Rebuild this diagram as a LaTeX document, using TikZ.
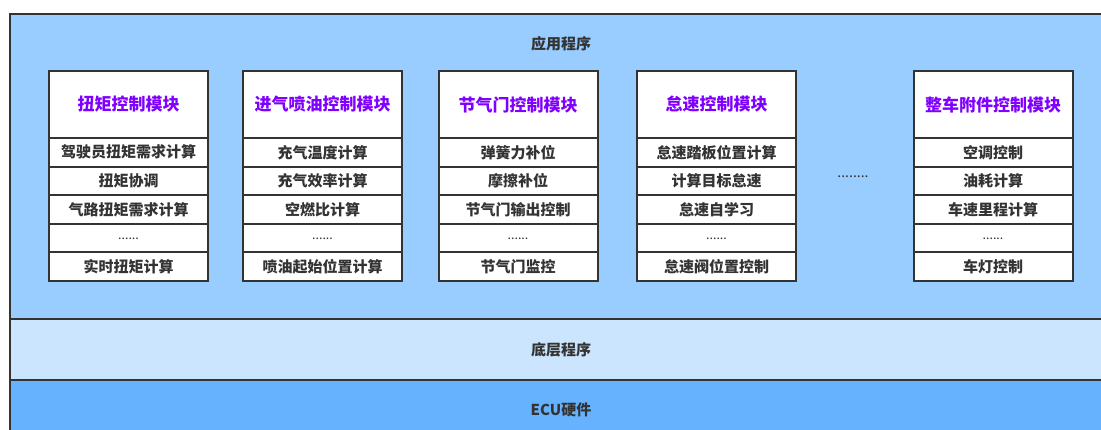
\documentclass[tikz,border=0pt]{standalone}
\usepackage{fontspec}
\setmainfont{Noto Sans CJK SC}
\begin{document}
\begin{tikzpicture}[x=1pt,y=-1pt,
  layer/.style={draw=black!80, line width=2pt},
  hdr/.style={draw=black!80, fill=white, line width=2pt, minimum width=159pt, minimum height=67pt, inner sep=0pt, font=\fontsize{17}{19}\selectfont\bfseries, text=purp},
  cell/.style={draw=black!80, fill=white, line width=2pt, minimum width=159pt, minimum height=28.6pt, inner sep=0pt, font=\fontsize{15}{17}\selectfont\bfseries, text=txt},
  lbl/.style={font=\fontsize{15}{17}\selectfont\bfseries, text=txt}]
\definecolor{purp}{HTML}{8000FF}
\definecolor{txt}{HTML}{333333}
\definecolor{appc}{HTML}{99CCFF}
\definecolor{lowc}{HTML}{CCE5FF}
\definecolor{ecuc}{HTML}{66B2FF}
\useasboundingbox (0,0) rectangle (1101,430);
\begin{scope}
\clip (0,0) rectangle (1101,430);
\fill[white] (0,0) rectangle (1101,430);
\draw[layer, fill=appc] (10,14) rectangle (1110,319);
\draw[layer, fill=lowc] (10,319) rectangle (1110,380);
\draw[layer, fill=ecuc] (10,380) rectangle (1110,440);
\end{scope}
\node[lbl] (app) at (561,44) {应用程序};
\node[lbl] (low) at (561,350) {底层程序};
\node[lbl] (ecu) at (561,410) {ECU硬件};
\newcommand\mymodule[7]{%
  \node[hdr] (#1h) at (#2,104.5) {#3};
  \node[cell] (#1a) at (#2,152.3) {#4};
  \node[cell] (#1b) at (#2,180.9) {#5};
  \node[cell] (#1c) at (#2,209.5) {#6};
  \node[cell] (#1d) at (#2,238.1) {\fontsize{12.5}{14}\selectfont\mdseries\raisebox{-3pt}{......}};
  \node[cell] (#1e) at (#2,266.7) {#7};
}
\mymodule{m1}{128.5}{扭矩控制模块}{驾驶员扭矩需求计算}{扭矩协调}{气路扭矩需求计算}{实时扭矩计算}
\mymodule{m2}{322.5}{进气喷油控制模块}{充气温度计算}{充气效率计算}{空燃比计算}{喷油起始位置计算}
\mymodule{m3}{518}{节气门控制模块}{弹簧力补位}{摩擦补位}{节气门输出控制}{节气门监控}
\mymodule{m4}{716.5}{怠速控制模块}{怠速踏板位置计算}{计算目标怠速}{怠速自学习}{怠速阀位置控制}
\mymodule{m5}{993}{整车附件控制模块}{空调控制}{油耗计算}{车速里程计算}{车灯控制}
\node[text=txt, font=\fontsize{14}{16}\selectfont] (dots) at (853,177) {........};
\end{tikzpicture}
\end{document}
